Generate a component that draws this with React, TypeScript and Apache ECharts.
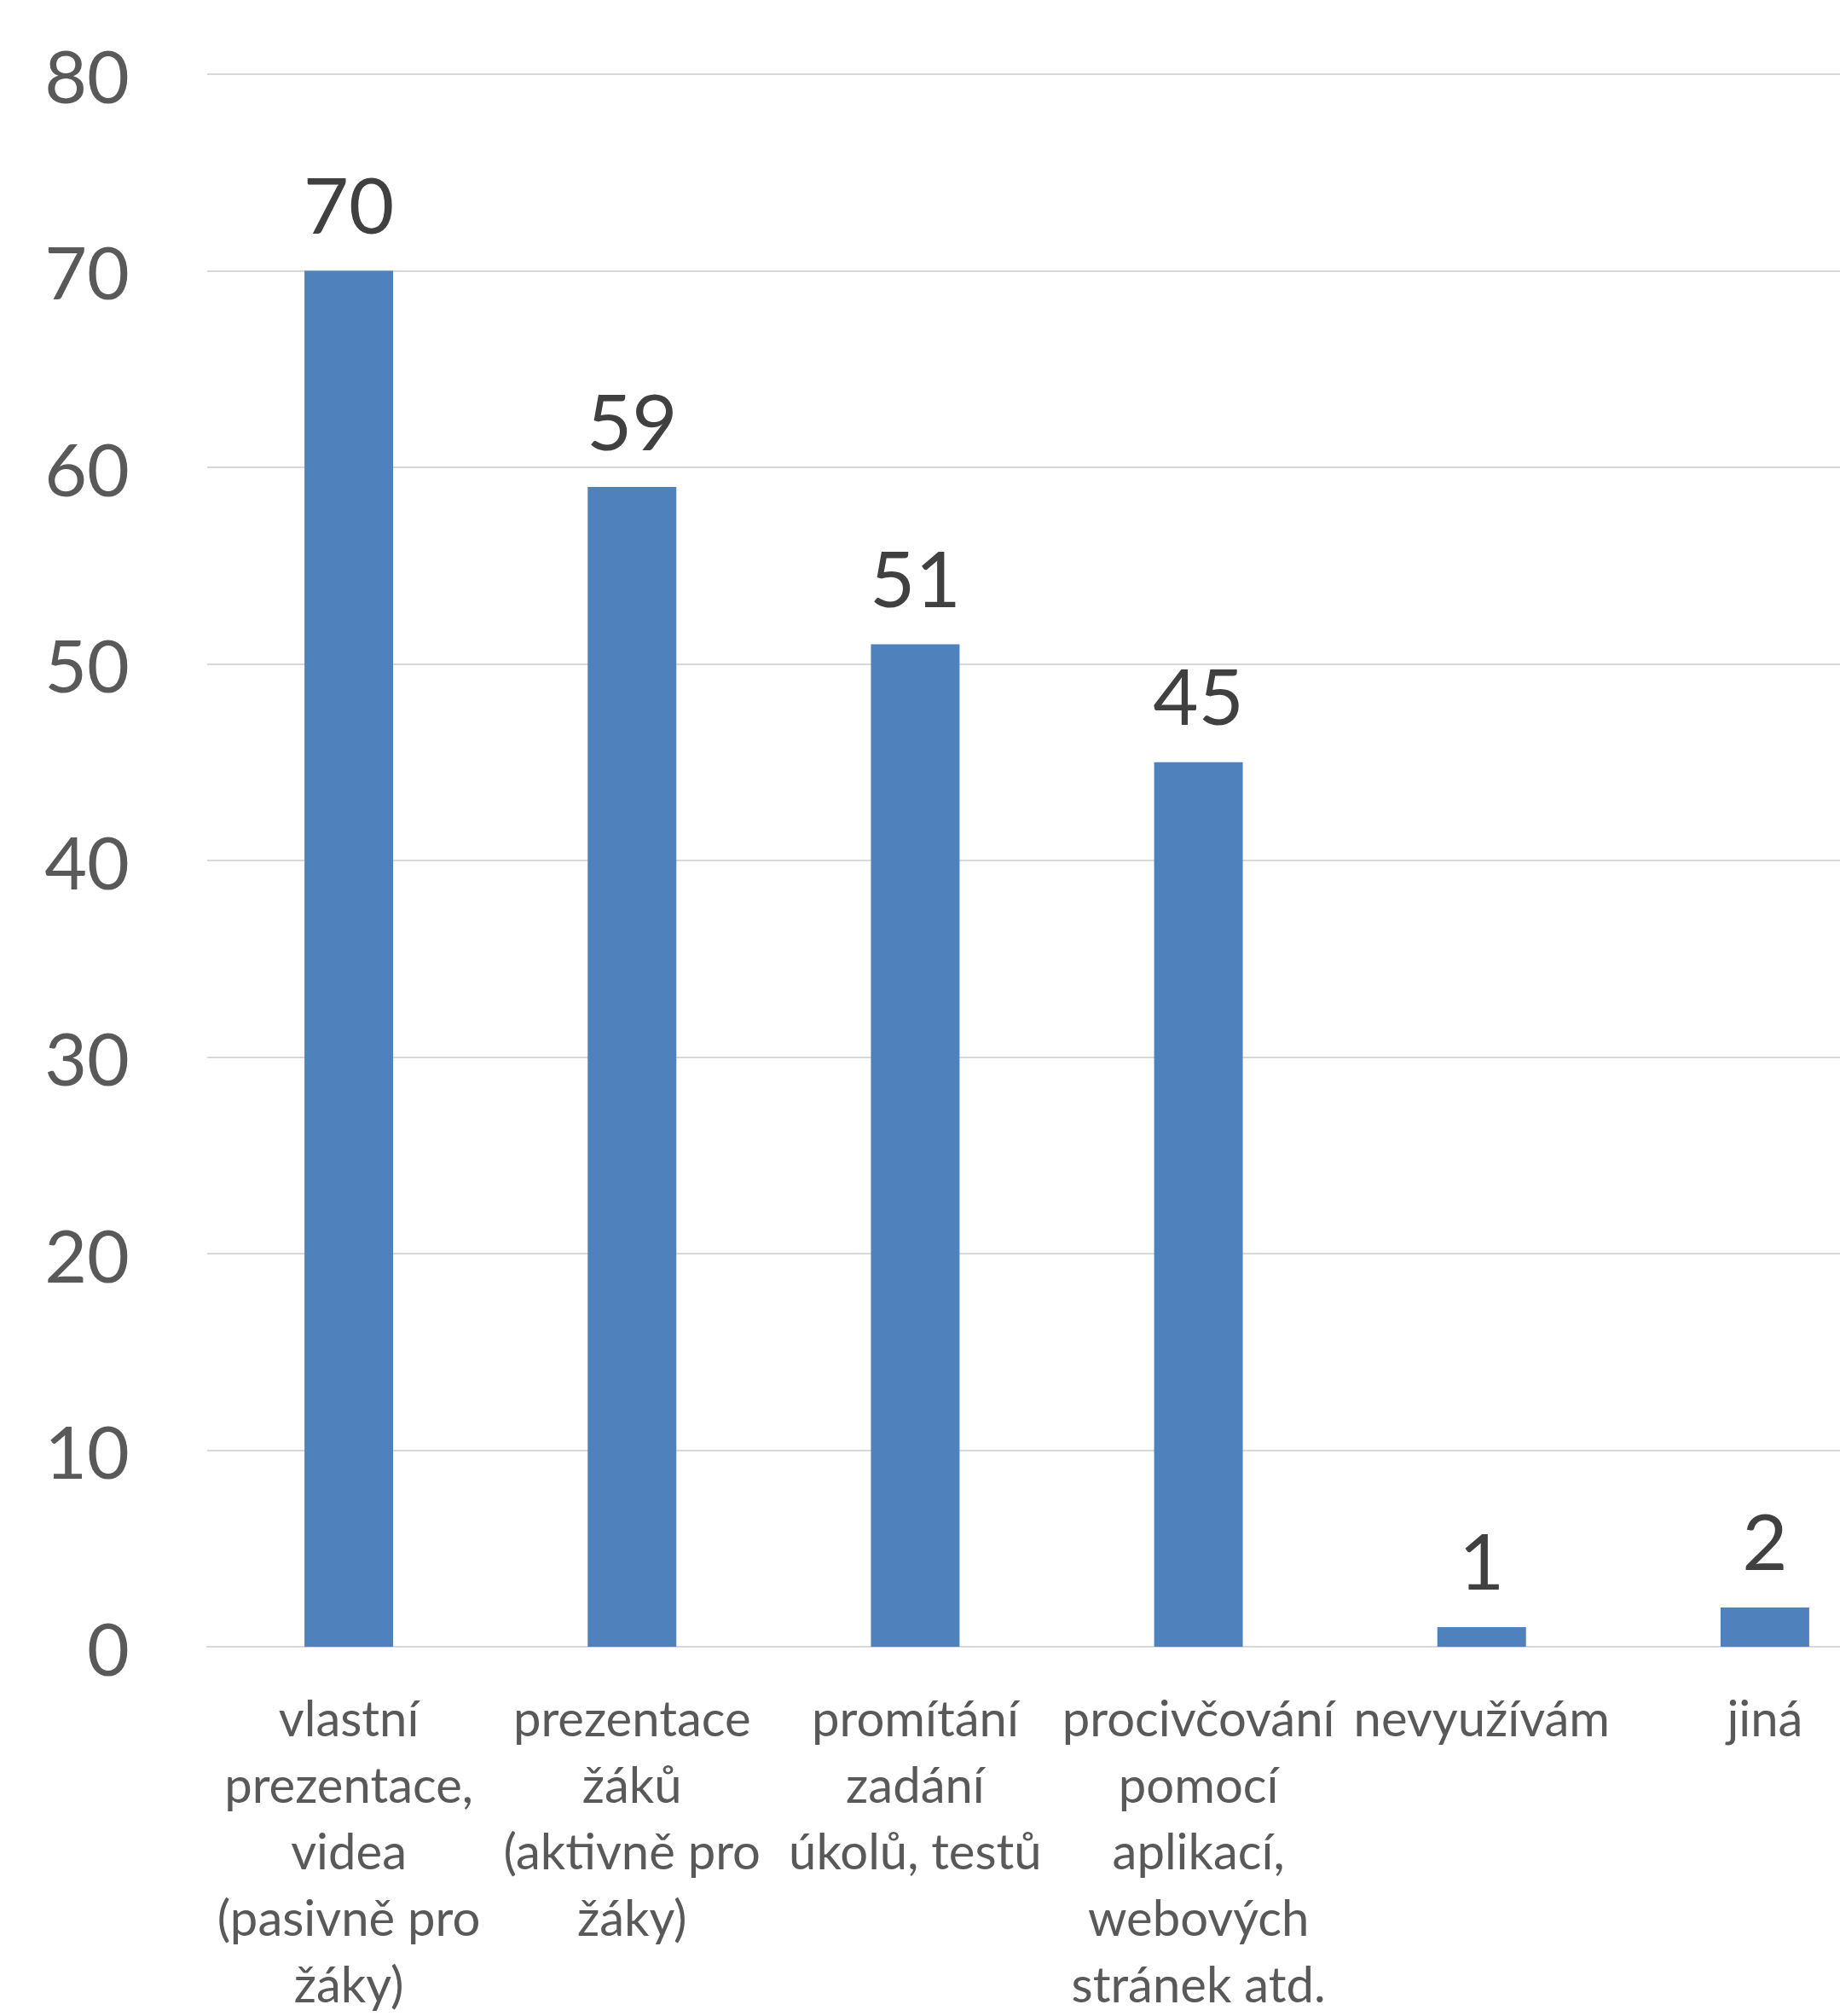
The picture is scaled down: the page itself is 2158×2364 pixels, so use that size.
import React, { useEffect, useRef } from "react";
import * as echarts from "echarts";

const categories = [
  "vlastní\nprezentace,\nvidea\n(pasivně pro\nžáky)",
  "prezentace\nžáků\n(aktivně pro\nžáky)",
  "promítání\nzadání\núkolů, testů",
  "procivčování\npomocí\naplikací,\nwebových\nstránek atd.",
  "nevyužívám",
  "jiná",
];
const values = [70, 59, 51, 45, 1, 2];
const yMin = 0;
const yMax = 80;
const yInterval = 10;

export default function App() {
  const ref = useRef<HTMLDivElement>(null);
  useEffect(() => {
    if (!ref.current) return;
    const chart = echarts.init(ref.current, undefined, { renderer: "svg" });
    chart.setOption({
      animation: false,
      backgroundColor: "#ffffff",
      textStyle: { fontFamily: "Lato" },
      grid: { left: 243, right: 0, top: 87, bottom: 422, containLabel: false },
      xAxis: {
        type: "category",
        data: categories,
        axisLine: { show: true, lineStyle: { color: "#D9D9D9", width: 2 } },
        axisTick: { show: false },
        axisLabel: {
          interval: 0,
          color: "#595959",
          fontFamily: "Lato",
          fontSize: 58,
          lineHeight: 78,
          margin: 43,
          verticalAlign: "top",
        },
      },
      yAxis: {
        type: "value",
        min: yMin,
        max: yMax,
        interval: yInterval,
        axisLine: { show: false },
        axisTick: { show: false },
        splitLine: { show: true, lineStyle: { color: "#D9D9D9", width: 2 } },
        axisLabel: {
          color: "#595959",
          fontFamily: "Lato",
          fontSize: 86,
          margin: 91,
        },
      },
      series: [
        {
          type: "bar",
          data: values,
          barWidth: "31.3%",
          itemStyle: { color: "#4F81BD" },
          label: {
            show: true,
            position: "top",
            distance: 33,
            color: "#404040",
            fontFamily: "Lato",
            fontSize: 92,
          },
        },
      ],
    });
    return () => chart.dispose();
  }, []);
  return (
    <div
      style={{
        position: "absolute",
        left: 0,
        top: 0,
        width: 2158,
        height: 2364,
        overflow: "hidden",
        background: "#ffffff",
      }}
    >
      <div ref={ref} style={{ width: 2236, height: 2364 }} />
    </div>
  );
}
